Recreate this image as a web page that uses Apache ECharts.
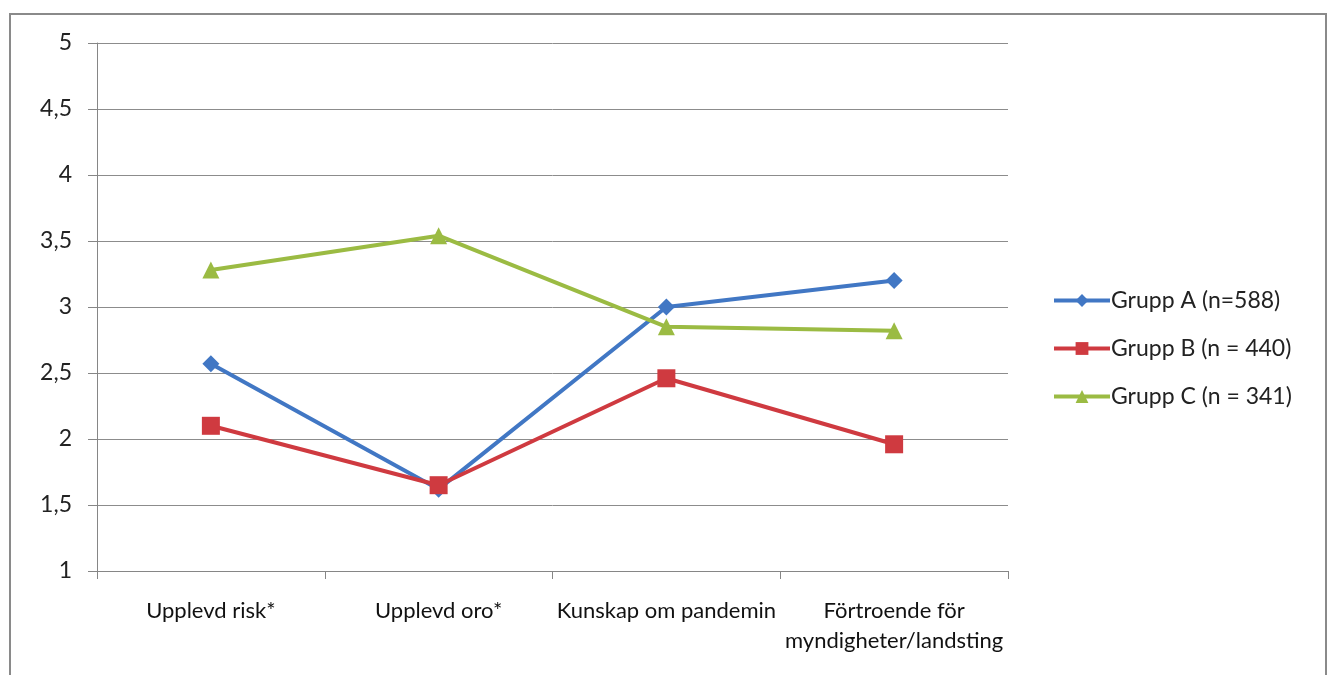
<!DOCTYPE html>
<html>
<head>
<meta charset="utf-8">
<script src="https://cdn.jsdelivr.net/npm/echarts@6/dist/echarts.min.js"></script>
<style>
  html, body { margin: 0; padding: 0; background: #fff; overflow: hidden; }
  #frame { position: absolute; left: 9px; top: 13px; width: 1314px; height: 700px; border: 2px solid #8a8a8a; box-sizing: content-box; }
  #chart { position: absolute; left: 0; top: 0; width: 1330px; height: 675px; }
</style>
</head>
<body>
<div id="frame"></div>
<div id="chart"></div>
<script>
// Survey dimensions (x axis)
const categories = ['Upplevd risk*', 'Upplevd oro*', 'Kunskap om pandemin', 'Förtroende för\nmyndigheter/landsting'];

// Mean scores per group
const gruppA = [2.57, 1.62, 3.00, 3.20];
const gruppB = [2.10, 1.65, 2.46, 1.96];
const gruppC = [3.28, 3.54, 2.85, 2.82];

const seriesNames = ['Grupp A (n=588)', 'Grupp B (n = 440)', 'Grupp C (n = 341)'];

const chart = echarts.init(document.getElementById('chart'), null, { renderer: 'canvas' });

function lineSeries(name, data, color, symbol, size) {
  return {
    name: name,
    type: 'line',
    data: data,
    symbol: symbol,
    symbolSize: size,
    lineStyle: { color: color, width: 4 },
    itemStyle: { color: color },
    emphasis: { disabled: true },
    animation: false
  };
}

chart.setOption({
  animation: false,
  grid: { left: 97, top: 43, width: 911, height: 528, containLabel: false },
  legend: {
    orient: 'vertical',
    left: 1047,
    top: 284,
    itemWidth: 56,
    itemHeight: 16,
    itemGap: 25,
    lineStyle: { width: 4 },
    textStyle: { fontFamily: 'Lato, "Noto Sans", sans-serif', fontSize: 23, color: '#222', padding: [0, 0, 0, -4] },
    data: seriesNames
  },
  xAxis: {
    type: 'category',
    data: categories,
    boundaryGap: true,
    axisLine: { lineStyle: { color: '#868686', width: 1 } },
    axisTick: { show: true, length: 8, lineStyle: { color: '#868686' } },
    axisLabel: {
      margin: 25,
      interval: 0,
      fontFamily: 'Lato, sans-serif',
      fontSize: 22,
      color: '#111',
      lineHeight: 30
    }
  },
  yAxis: {
    type: 'value',
    min: 1,
    max: 5,
    interval: 0.5,
    axisLine: { show: true, lineStyle: { color: '#868686', width: 1 } },
    axisTick: { show: true, length: 9, lineStyle: { color: '#868686' } },
    splitLine: { lineStyle: { color: '#8c8c8c', width: 1 } },
    axisLabel: {
      margin: 25,
      fontFamily: 'Lato, "Noto Sans", sans-serif',
      fontSize: 23,
      color: '#222',
      formatter: v => String(v).replace('.', ',')
    }
  },
  series: [
    lineSeries(seriesNames[0], gruppA, '#4177c4', 'diamond', 17),
    lineSeries(seriesNames[1], gruppB, '#cf3a40', 'rect', 18),
    lineSeries(seriesNames[2], gruppC, '#9bbb43', 'triangle', 17)
  ]
});
</script>
</body>
</html>
